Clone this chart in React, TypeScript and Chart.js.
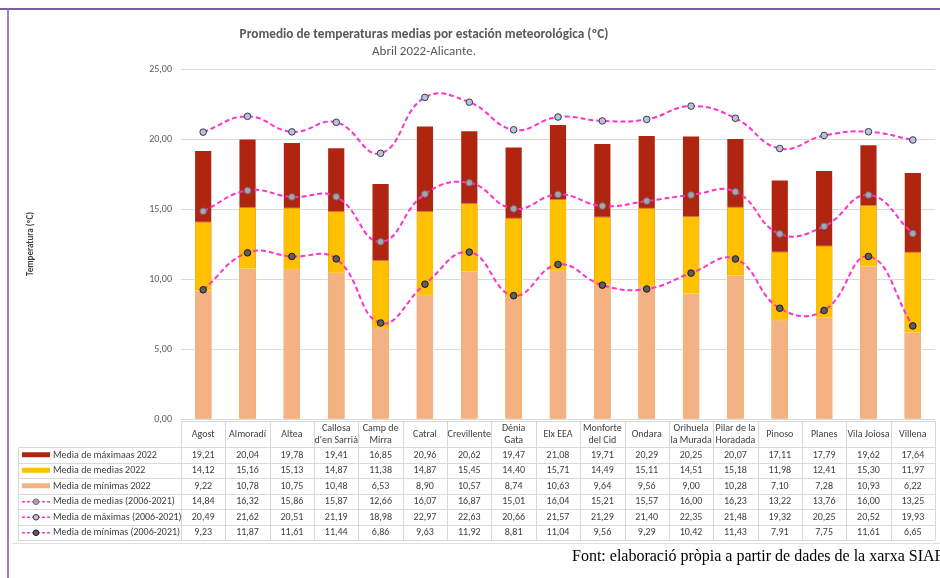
import React, { useEffect, useRef } from "react";
import { Chart, registerables } from "chart.js";

Chart.register(...registerables);

const stations: string[][] = [
  ["Agost"], ["Almoradí"], ["Altea"], ["Callosa", "d'en Sarrià"], ["Camp de", "Mirra"],
  ["Catral"], ["Crevillente"], ["Dénia", "Gata"], ["Elx EEA"], ["Monforte", "del Cid"],
  ["Ondara"], ["Orihuela", "la Murada"], ["Pilar de la", "Horadada"], ["Pinoso"], ["Planes"],
  ["Vila Joiosa"], ["Villena"],
];

const max2022 = [19.21, 20.04, 19.78, 19.41, 16.85, 20.96, 20.62, 19.47, 21.08, 19.71, 20.29, 20.25, 20.07, 17.11, 17.79, 19.62, 17.64];
const med2022 = [14.12, 15.16, 15.13, 14.87, 11.38, 14.87, 15.45, 14.40, 15.71, 14.49, 15.11, 14.51, 15.18, 11.98, 12.41, 15.30, 11.97];
const min2022 = [9.22, 10.78, 10.75, 10.48, 6.53, 8.90, 10.57, 8.74, 10.63, 9.64, 9.56, 9.00, 10.28, 7.10, 7.28, 10.93, 6.22];
const medHist = [14.84, 16.32, 15.86, 15.87, 12.66, 16.07, 16.87, 15.01, 16.04, 15.21, 15.57, 16.00, 16.23, 13.22, 13.76, 16.00, 13.25];
const maxHist = [20.49, 21.62, 20.51, 21.19, 18.98, 22.97, 22.63, 20.66, 21.57, 21.29, 21.40, 22.35, 21.48, 19.32, 20.25, 20.52, 19.93];
const minHist = [9.23, 11.87, 11.61, 11.44, 6.86, 9.63, 11.92, 8.81, 11.04, 9.56, 9.29, 10.42, 11.43, 7.91, 7.75, 11.61, 6.65];

const yTicks = [0, 5, 10, 15, 20, 25];

const TITLE = "Promedio de temperaturas medias por estación meteorológica (ºC)";
const SUBTITLE = "Abril 2022-Alicante.";
const Y_TITLE = "Temperatura (ºC)";
const SOURCE = "Font: elaboració pròpia a partir de dades de la xarxa SIAR";

const FONT = "Carlito, Calibri, Lato, sans-serif";
const fmt = (v: number) => v.toFixed(2).replace(".", ",");

const C_MAX = "#B0250F";
const C_MED = "#FFC000";
const C_MIN = "#F4B183";
const C_LINE = "#FF33CC";

const series = [
  { label: "Media de máximaas 2022", data: max2022, kind: "bar", color: C_MAX },
  { label: "Media de medias 2022", data: med2022, kind: "bar", color: C_MED },
  { label: "Media de mínimas 2022", data: min2022, kind: "bar", color: C_MIN },
  { label: "Media de medias (2006-2021)", data: medHist, kind: "line", fill: "#A5A5AD", stroke: "#6E6E78" },
  { label: "Media de máximas (2006-2021)", data: maxHist, kind: "line", fill: "#B8C2D8", stroke: "#3A3A4A" },
  { label: "Media de mínimas (2006-2021)", data: minHist, kind: "line", fill: "#5E5E5E", stroke: "#1A1A1A" },
];

const decorPlugin = {
  id: "decor",
  beforeDraw(chart: any) {
    const ctx = chart.ctx;
    ctx.save();
    ctx.fillStyle = "#ffffff";
    ctx.fillRect(0, 0, chart.width, chart.height);
    ctx.restore();
  },
  afterDraw(chart: any) {
    const ctx = chart.ctx;
    const xs = chart.scales.x;
    const area = chart.chartArea;
    const n = stations.length;
    const colW = (area.right - area.left) / n;
    const headTop = 421;
    const headBot = 447;
    const rowH = 15.5;
    const tableBot = headBot + rowH * series.length;
    const labelLeft = 18;
    ctx.save();
    // frame lines
    ctx.strokeStyle = "#4A2D78";
    ctx.lineWidth = 1.5;
    ctx.beginPath();
    ctx.moveTo(0, 9);
    ctx.lineTo(chart.width, 9);
    ctx.stroke();
    ctx.strokeStyle = "#9B80C2";
    ctx.lineWidth = 2;
    ctx.beginPath();
    ctx.moveTo(8, 9);
    ctx.lineTo(8, chart.height);
    ctx.stroke();

    // titles
    ctx.fillStyle = "#595959";
    ctx.textAlign = "center";
    ctx.textBaseline = "middle";
    ctx.font = `bold 13.3px ${FONT}`;
    ctx.fillText(TITLE, 424, 35);
    ctx.font = `13px ${FONT}`;
    ctx.fillText(SUBTITLE, 424, 52);

    // table grid
    ctx.strokeStyle = "#D9D9D9";
    ctx.lineWidth = 1;
    ctx.beginPath();
    ctx.moveTo(area.left, headTop + 0.5);
    ctx.lineTo(area.right, headTop + 0.5);
    for (let r = 0; r <= series.length; r++) {
      const y = Math.round(headBot + r * rowH) + 0.5;
      ctx.moveTo(labelLeft, y);
      ctx.lineTo(area.right, y);
    }
    for (let i = 0; i <= n; i++) {
      const x = Math.round(xs.getPixelForValue(Math.min(i, n - 1)) + (i === n ? colW / 2 : -colW / 2)) + 0.5;
      ctx.moveTo(x, headTop);
      ctx.lineTo(x, tableBot);
    }
    ctx.moveTo(labelLeft + 0.5, headBot);
    ctx.lineTo(labelLeft + 0.5, tableBot);
    ctx.stroke();

    // bottom sheet line
    ctx.strokeStyle = "#E0E0E0";
    ctx.beginPath();
    ctx.moveTo(12, 543.5);
    ctx.lineTo(chart.width, 543.5);
    ctx.stroke();

    // header labels
    ctx.fillStyle = "#404040";
    ctx.font = `10px ${FONT}`;
    ctx.textAlign = "center";
    ctx.textBaseline = "middle";
    const headMid = (headTop + headBot) / 2;
    stations.forEach((lines, i) => {
      const cx = xs.getPixelForValue(i);
      if (lines.length === 1) {
        ctx.fillText(lines[0], cx, headMid + 0.5);
      } else {
        ctx.fillText(lines[0], cx, headMid - 6);
        ctx.fillText(lines[1], cx, headMid + 6);
      }
    });

    // rows
    series.forEach((s: any, r) => {
      const cy = headBot + r * rowH + rowH / 2 + 0.5;
      if (s.kind === "bar") {
        ctx.fillStyle = s.color;
        ctx.fillRect(22, cy - 3, 28, 5);
      } else {
        ctx.strokeStyle = C_LINE;
        ctx.lineWidth = 1.3;
        ctx.setLineDash([3, 2]);
        ctx.beginPath();
        ctx.moveTo(22, cy);
        ctx.lineTo(50, cy);
        ctx.stroke();
        ctx.setLineDash([]);
        ctx.fillStyle = s.fill;
        ctx.strokeStyle = s.stroke;
        ctx.lineWidth = 1;
        ctx.beginPath();
        ctx.arc(36, cy, 2.8, 0, Math.PI * 2);
        ctx.fill();
        ctx.stroke();
      }
      ctx.fillStyle = "#404040";
      ctx.textAlign = "left";
      ctx.fillText(s.label, 53, cy);
      ctx.textAlign = "center";
      s.data.forEach((v: number, i: number) => {
        ctx.fillText(fmt(v), xs.getPixelForValue(i), cy);
      });
    });

    // source
    ctx.fillStyle = "#000000";
    ctx.font = `16px "Liberation Serif", "Times New Roman", serif`;
    ctx.textAlign = "left";
    ctx.textBaseline = "alphabetic";
    ctx.fillText(SOURCE, 572, 561);
    ctx.restore();
  },
};

export default function App() {
  const ref = useRef<HTMLCanvasElement | null>(null);
  useEffect(() => {
    if (!ref.current) return;
    const labels = stations.map((l) => l.join(" "));
    const barOrder = [3, 2, 1];
    const datasets: any[] = series.map((s: any, idx) => {
      if (s.kind === "bar") {
        return {
          type: "bar",
          label: s.label,
          data: s.data,
          backgroundColor: s.color,
          borderColor: "rgba(255,255,255,0.35)",
          borderWidth: 1,
          grouped: false,
          categoryPercentage: 1,
          barPercentage: 0.41,
          order: barOrder[idx],
        };
      }
      return {
        type: "line",
        label: s.label,
        data: s.data,
        borderColor: C_LINE,
        borderWidth: 2,
        borderDash: [5, 3],
        tension: 0.45,
        fill: false,
        pointRadius: 3.3,
        pointBackgroundColor: s.fill,
        pointBorderColor: s.stroke,
        pointBorderWidth: 1,
        order: 0,
      };
    });
    const chart = new Chart(ref.current, {
      type: "bar",
      data: { labels, datasets },
      options: {
        animation: false,
        responsive: false,
        maintainAspectRatio: false,
        layout: { padding: { left: 0, right: 3, top: 69, bottom: 159 } },
        plugins: {
          legend: { display: false },
          tooltip: { enabled: false },
          title: { display: false },
        },
        scales: {
          x: { display: false, offset: true },
          y: {
            min: 0,
            max: 25,
            afterBuildTicks: (scale: any) => {
              scale.ticks = yTicks.map((v) => ({ value: v }));
            },
            afterFit: (scale: any) => {
              scale.width = 181;
            },
            border: { display: false },
            grid: { color: "#D9D9D9", drawTicks: false, lineWidth: 1 },
            ticks: {
              padding: 9,
              color: "#595959",
              font: { family: FONT, size: 10 },
              callback: (v: any) => fmt(Number(v)),
            },
            title: {
              display: true,
              text: Y_TITLE,
              color: "#404040",
              font: { family: FONT, size: 9, weight: "bold", lineHeight: 1.2 },
              padding: { top: 25, bottom: 0 },
            },
          },
        },
      },
      plugins: [decorPlugin],
    } as any);
    return () => chart.destroy();
  }, []);
  return (
    <div style={{ position: "absolute", left: 0, top: 0, width: 940, height: 578 }}>
      <canvas ref={ref} width={940} height={578} style={{ display: "block" }} />
    </div>
  );
}
